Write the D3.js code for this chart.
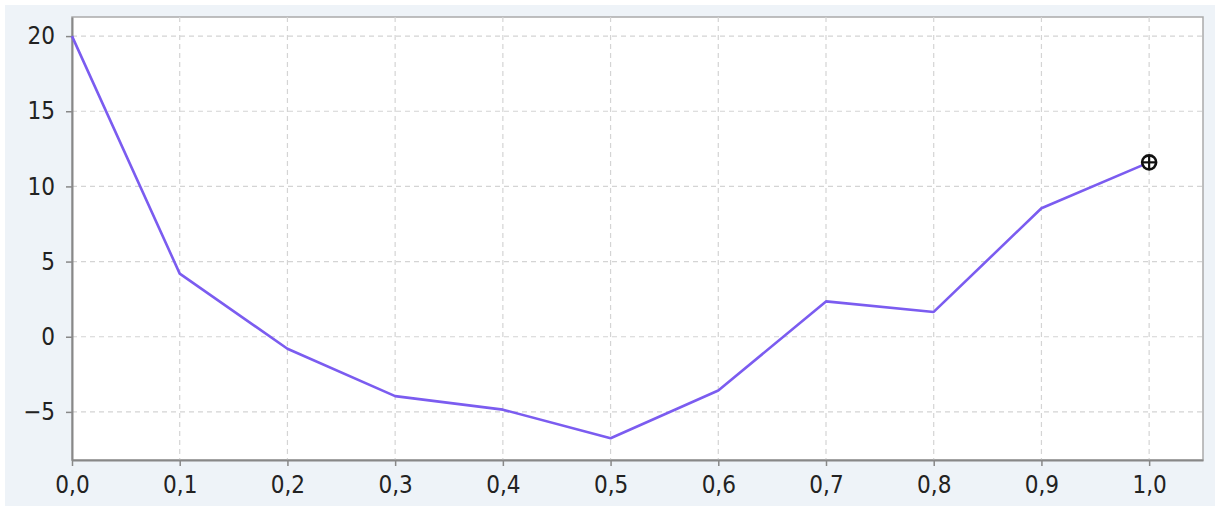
<!DOCTYPE html>
<html><head><meta charset="utf-8">
<script src="https://cdn.jsdelivr.net/npm/d3@7"></script>
<style>html,body{margin:0;padding:0;background:#fff;}svg{display:block;}</style>
</head><body>
<svg id="chart" width="1220" height="506"></svg>
<script>
const xValues = [0.0, 0.1, 0.2, 0.3, 0.4, 0.5, 0.6, 0.7, 0.8, 0.9, 1.0];
const yValues = [20, 4.2, -0.8, -3.95, -4.85, -6.75, -3.58, 2.35, 1.65, 8.55, 11.6];
const xTicks = [0.0, 0.1, 0.2, 0.3, 0.4, 0.5, 0.6, 0.7, 0.8, 0.9, 1.0];
const yTicks = [-5, 0, 5, 10, 15, 20];

const svg = d3.select("#chart");
const m = {left: 72, top: 17, right: 1203, bottom: 460};
const font = "'DejaVu Sans Condensed', 'DejaVu Sans', sans-serif";

svg.append("rect").attr("x", 5).attr("y", 5).attr("width", 1210).attr("height", 501).attr("fill", "#eef3f8");
svg.append("rect").attr("x", m.left).attr("y", m.top).attr("width", m.right - m.left).attr("height", m.bottom - m.top)
  .attr("fill", "#fff").attr("stroke", "#aaaaaa").attr("stroke-width", 1.5);

const x = d3.scaleLinear().domain([0, 1.05]).range([m.left, m.right]);
const y = d3.scaleLinear().domain([-8.2, 21.27]).range([m.bottom, m.top]);

// grid
svg.append("g").selectAll("line").data(yTicks).join("line")
  .attr("x1", m.left).attr("x2", m.right).attr("y1", d => y(d)).attr("y2", d => y(d))
  .attr("stroke", "#d4d4d4").attr("stroke-width", 1.2).attr("stroke-dasharray", "5,4");
svg.append("g").selectAll("line").data(xTicks.filter(d => d > 0)).join("line")
  .attr("x1", d => x(d)).attr("x2", d => x(d)).attr("y1", m.top).attr("y2", m.bottom)
  .attr("stroke", "#d4d4d4").attr("stroke-width", 1.2).attr("stroke-dasharray", "5,4");

// axes
const fmt = d => d3.format(".1f")(d).replace(".", ",");
const xAxis = svg.append("g").attr("transform", `translate(0,${m.bottom})`)
  .call(d3.axisBottom(x).tickValues(xTicks).tickFormat(fmt).tickSize(6).tickSizeOuter(0).tickPadding(10));
const yAxis = svg.append("g").attr("transform", `translate(${m.left},0)`)
  .call(d3.axisLeft(y).tickValues(yTicks).tickFormat(d => d < 0 ? "\u2212" + Math.abs(d) : d).tickSize(6).tickSizeOuter(0).tickPadding(11));
[xAxis, yAxis].forEach(g => {
  g.select(".domain").attr("stroke", "#888").attr("stroke-width", 2);
  g.selectAll(".tick line").attr("stroke", "#888").attr("stroke-width", 1.5);
  g.selectAll(".tick text").attr("fill", "#222").style("font-family", font).style("font-size", "24px");
});

// line
const line = d3.line().x((d, i) => x(xValues[i])).y(d => y(d));
svg.append("path").datum(yValues).attr("d", line)
  .attr("fill", "none").attr("stroke", "#7b5cf0").attr("stroke-width", 2.6).attr("stroke-linejoin", "round");

// marker at last point
const lx = x(xValues[xValues.length - 1]), ly = y(yValues[yValues.length - 1]);
const mk = svg.append("g").attr("transform", `translate(${lx},${ly})`);
mk.append("circle").attr("r", 7).attr("fill", "#fff").attr("stroke", "#111").attr("stroke-width", 2.6);
mk.append("line").attr("x1", -7).attr("x2", 7).attr("stroke", "#111").attr("stroke-width", 2.2);
mk.append("line").attr("y1", -7).attr("y2", 7).attr("stroke", "#111").attr("stroke-width", 2.2);
</script>
</body></html>
